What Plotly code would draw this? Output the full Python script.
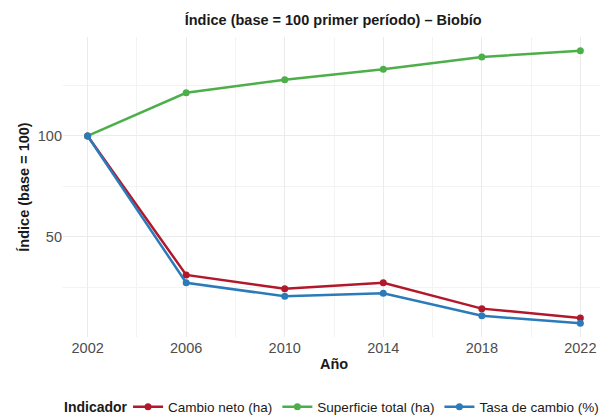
import plotly.graph_objects as go

years = [2002, 2006, 2010, 2014, 2018, 2022]
series_names = ["Cambio neto (ha)", "Superficie total (ha)", "Tasa de cambio (%)"]
cambio_neto = [100, 31.2, 24.3, 27.3, 14.5, 9.9]
superficie_total = [100, 121.4, 127.8, 133.0, 139.1, 142.2]
tasa_cambio = [100, 27.3, 20.6, 22.1, 11.0, 7.2]
colors = ["#B2182B", "#4DAF4A", "#2B7BBA"]
x_ticks = [2002, 2006, 2010, 2014, 2018, 2022]
y_ticks = [50, 100]

FONT = "Liberation Sans, Arial, sans-serif"

fig = go.Figure()
for name, vals, col in zip(series_names, [cambio_neto, superficie_total, tasa_cambio], colors):
    fig.add_trace(go.Scatter(
        x=years, y=vals, name=name, mode="lines+markers",
        line=dict(color=col, width=2.5),
        marker=dict(color=col, size=7),
    ))

fig.add_annotation(text="<b>Indicador</b>", xref="paper", yref="paper",
                   x=-0.002, y=-0.233, xanchor="left", yanchor="middle",
                   showarrow=False, font=dict(size=14, color="#1a1a1a"))

fig.update_layout(
    width=600, height=408,
    margin=dict(l=55, r=3, t=29, b=79, autoexpand=False),
    paper_bgcolor="white", plot_bgcolor="white",
    font=dict(family=FONT, color="#4D4D4D", size=14),
    title=dict(text="<b>Índice (base = 100 primer período) – Biobío</b>",
               x=0.542, xanchor="center", y=0.971, yanchor="middle",
               font=dict(size=14.5, color="#1a1a1a")),
    xaxis=dict(range=[2001, 2023], tickvals=x_ticks, ticktext=[str(t) for t in x_ticks],
               showgrid=True, gridcolor="#EBEBEB", gridwidth=1.1,
               minor=dict(tickvals=[2004, 2008, 2012, 2016, 2020], showgrid=True,
                          gridcolor="#F3F3F3", gridwidth=0.6),
               zeroline=False, showline=False, ticks="", automargin=False,
               title=dict(text="<b>Año</b>", font=dict(size=14.5, color="#1a1a1a"), standoff=4),
               tickfont=dict(size=14.5, color="#4D4D4D")),
    yaxis=dict(range=[0.45, 149], tickvals=y_ticks, ticktext=[str(t) for t in y_ticks],
               showgrid=True, gridcolor="#EBEBEB", gridwidth=1.1,
               minor=dict(tickvals=[25, 75, 125], showgrid=True,
                          gridcolor="#F3F3F3", gridwidth=0.6),
               zeroline=False, showline=False, ticks="", automargin=False,
               title=dict(text="<b>Índice (base = 100)</b>", font=dict(size=14.5, color="#1a1a1a"), standoff=4),
               tickfont=dict(size=14.5, color="#4D4D4D")),
    legend=dict(orientation="h", x=0.12, xanchor="left", y=-0.233, yanchor="middle",
                font=dict(size=13.5, color="#1a1a1a"), itemwidth=30, traceorder="normal",
                tracegroupgap=0),
    showlegend=True,
)

fig.write_html("out.html")
